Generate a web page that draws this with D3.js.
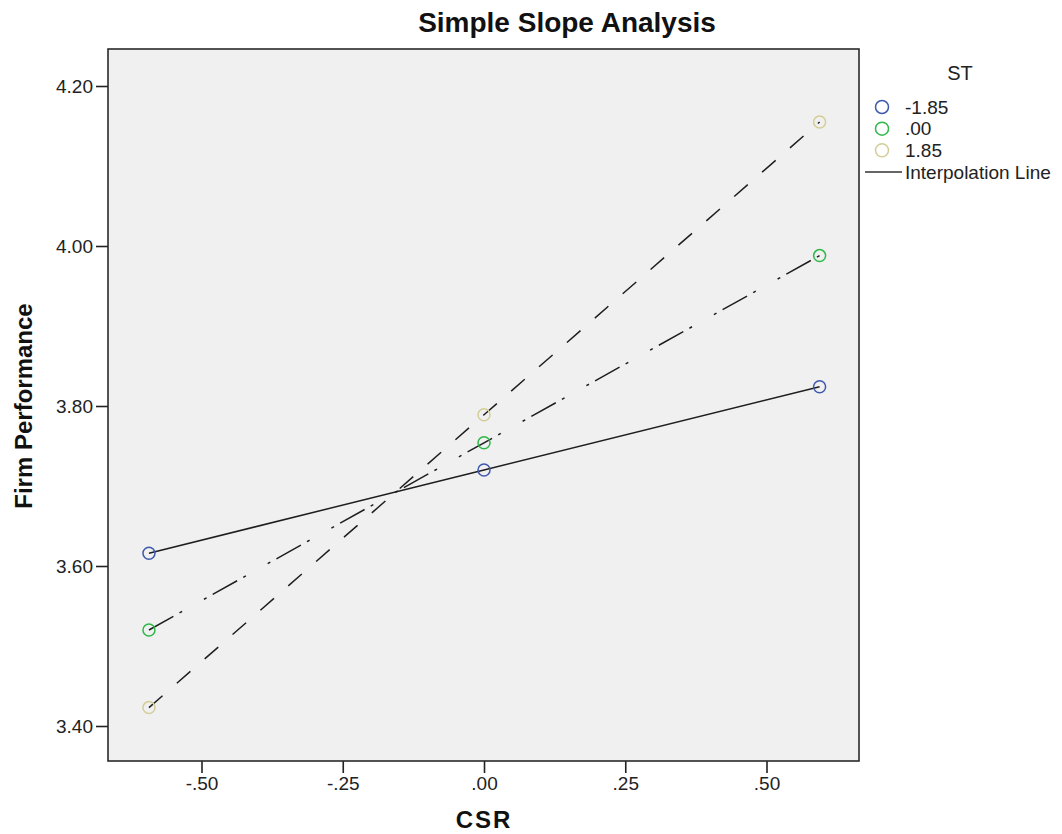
<!DOCTYPE html>
<html>
<head>
<meta charset="utf-8">
<script src="https://cdn.jsdelivr.net/npm/d3@7"></script>
<style>
    body { margin: 0; background: #fff; }
    svg { display: block; font-family: "Liberation Sans", Arial, sans-serif; }
    .tick text { font-size: 19px; fill: #222; }
    .tick line { stroke: #222; stroke-width: 1.6; }
</style>
</head>
<body>
<script>
// values
var csrValues = [-0.593, 0, 0.594];
var stLevels = ["-1.85", ".00", "1.85"];
var lowST = [3.616, 3.720, 3.824];
var meanST = [3.520, 3.754, 3.988];
var highST = [3.423, 3.789, 4.155];
var yTicks = [3.40, 3.60, 3.80, 4.00, 4.20];
var xTicks = [-0.50, -0.25, 0.00, 0.25, 0.50];

var series = [
    { name: stLevels[0], values: lowST, color: "#3e58ac", dash: null },
    { name: stLevels[1], values: meanST, color: "#2eb848", dash: "28,7,3,25,3,7" },
    { name: stLevels[2], values: highST, color: "#d3ce97", dash: "18,19" }
];

var width = 1062, height = 834;
var plot = { left: 108, top: 49, right: 859, bottom: 761 };

var svg = d3.select("body").append("svg")
    .attr("width", width).attr("height", height);

var x = d3.scaleLinear()
    .domain([-0.6655, 0.6637])
    .range([plot.left, plot.right]);

var y = d3.scaleLinear()
    .domain([3.35625, 4.24625])
    .range([plot.bottom, plot.top]);

// spss style labels: no leading zero, plain hyphen
var fmt = function(d) {
    return d3.format(".2f")(d).replace("−", "-").replace("0.", ".");
};

// Plot background
svg.append("rect")
    .attr("x", plot.left).attr("y", plot.top)
    .attr("width", plot.right - plot.left).attr("height", plot.bottom - plot.top)
    .attr("fill", "#f0f0f0");

// Axes
var yAxis = d3.axisLeft(y).tickValues(yTicks).tickFormat(fmt).tickSize(12).tickPadding(3);
svg.append("g").attr("transform", "translate(" + plot.left + ",0)").call(yAxis)
    .call(function(g) { g.select(".domain").remove(); });

var xAxis = d3.axisBottom(x).tickValues(xTicks).tickFormat(fmt).tickSize(12).tickPadding(4);
svg.append("g").attr("transform", "translate(0," + plot.bottom + ")").call(xAxis)
    .call(function(g) { g.select(".domain").remove(); });

// Lines
var line = d3.line()
    .x(function(d, i) { return x(csrValues[i]); })
    .y(function(d) { return y(d); });

svg.selectAll(".slope").data(series).enter().append("path")
    .classed("slope", true)
    .attr("d", function(s) { return line(s.values); })
    .attr("fill", "none")
    .attr("stroke", "#1e1e1e")
    .attr("stroke-width", 1.5)
    .attr("stroke-dasharray", function(s) { return s.dash; });

// Points
series.forEach(function(s) {
    svg.selectAll(null).data(s.values).enter().append("circle")
        .attr("cx", function(d, i) { return x(csrValues[i]); })
        .attr("cy", function(d) { return y(d); })
        .attr("r", 6)
        .attr("fill", "none")
        .attr("stroke", s.color)
        .attr("stroke-width", 1.5);
});

// Frame
svg.append("rect")
    .attr("x", plot.left).attr("y", plot.top)
    .attr("width", plot.right - plot.left).attr("height", plot.bottom - plot.top)
    .attr("fill", "none").attr("stroke", "#2a2a2a").attr("stroke-width", 1.6);

// Titles
svg.append("text").attr("x", 567).attr("y", 32)
    .attr("text-anchor", "middle").attr("font-size", 28).attr("font-weight", "bold")
    .attr("fill", "#111").text("Simple Slope Analysis");

svg.append("text").attr("x", 484).attr("y", 828)
    .attr("text-anchor", "middle").attr("font-size", 24).attr("font-weight", "bold")
    .attr("letter-spacing", 2).attr("fill", "#111").text("CSR");

svg.append("text")
    .attr("transform", "translate(32,406) rotate(-90)")
    .attr("text-anchor", "middle").attr("font-size", 24).attr("font-weight", "bold")
    .attr("fill", "#111").text("Firm Performance");

// Legend
var legend = svg.append("g");
legend.append("text").attr("x", 960).attr("y", 80)
    .attr("text-anchor", "middle").attr("font-size", 20).attr("fill", "#222").text("ST");

var legendY = d3.scalePoint().domain(stLevels.concat(["Interpolation Line"])).range([107, 172]);

series.forEach(function(s) {
    legend.append("circle")
        .attr("cx", 882).attr("cy", legendY(s.name)).attr("r", 6.5)
        .attr("fill", "none").attr("stroke", s.color).attr("stroke-width", 1.5);
    legend.append("text").attr("x", 905).attr("y", legendY(s.name))
        .attr("dy", "0.35em").attr("font-size", 19).attr("fill", "#222").text(s.name);
});

legend.append("line")
    .attr("x1", 865).attr("x2", 902)
    .attr("y1", legendY("Interpolation Line")).attr("y2", legendY("Interpolation Line"))
    .attr("stroke", "#333").attr("stroke-width", 1.5);
legend.append("text").attr("x", 905).attr("y", legendY("Interpolation Line"))
    .attr("dy", "0.35em").attr("font-size", 19).attr("fill", "#222").text("Interpolation Line");
</script>
</body>
</html>
